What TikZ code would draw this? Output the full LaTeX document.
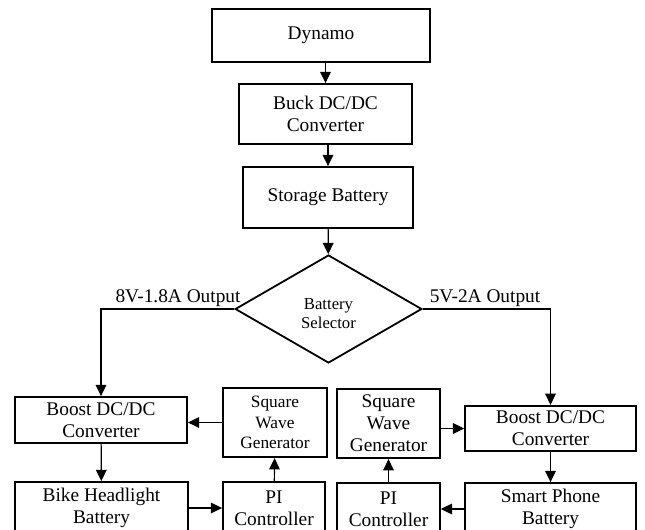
\documentclass[tikz,border=0pt]{standalone}
\usepackage{fontspec}
\setmainfont{Liberation Serif}
\usepackage{tikz}
\usetikzlibrary{arrows.meta,positioning,shapes.geometric}

\begin{document}
\begin{tikzpicture}[
    x=0.75pt,y=-0.75pt,
    block/.style={rectangle,draw,line width=1.35pt,align=center,inner sep=0pt,
      font=\fontsize{14.5}{16.5}\selectfont},
    small/.style={font=\fontsize{13}{15.5}\selectfont},
    decision/.style={diamond,draw,line width=1.35pt,align=center,inner sep=0pt,
      minimum width=140pt,minimum height=81pt,
      font=\fontsize{12.5}{14.5}\selectfont},
    lbl/.style={font=\fontsize{14.5}{16.5}\selectfont,inner sep=0pt,anchor=base},
    arr/.style={-{Triangle[length=8.5pt,width=8pt]},line width=0.9pt}
  ]
    \useasboundingbox (0,0) rectangle (645,529);

    % main chain
    \node[block,minimum width=163.5pt,minimum height=39.75pt] (dynamo)
      at (321,35.5) {Dynamo};
    \node[block,minimum width=129.75pt,minimum height=45pt] (buck)
      at (325.5,114) {Buck DC/DC\\Converter};
    \node[block,minimum width=127.5pt,minimum height=45.75pt] (storage)
      at (328,197.5) {Storage Battery};
    \node[decision] (selector) at (328.5,309)
      {\rule{0pt}{15pt}Battery\\Selector};

    \node[lbl] (outL) at (178,302) {8V-1.8A Output};
    \node[lbl] (outR) at (485,302) {5V-2A Output};

    % left branch
    \node[block,minimum width=129pt,minimum height=34.5pt] (boostL)
      at (101,420) {Boost DC/DC\\Converter};
    \node[block,small,minimum width=78pt,minimum height=52pt] (squareL)
      at (275,422.5) {Square\\Wave\\Generator};
    \node[block,minimum width=130pt,minimum height=39pt] (bike)
      at (101.5,508) {Bike Headlight\\Battery};
    \node[block,minimum width=76.5pt,minimum height=39pt] (piL)
      at (274,508) {PI\\Controller};

    % right branch
    \node[block,minimum width=77pt,minimum height=52pt] (squareR)
      at (388.5,423.5) {Square\\Wave\\Generator};
    \node[block,minimum width=128pt,minimum height=34pt] (boostR)
      at (550.5,428.5) {Boost DC/DC\\Converter};
    \node[block,minimum width=128pt,minimum height=39pt] (phone)
      at (550.5,509) {Smart Phone\\Battery};
    \node[block,minimum width=77pt,minimum height=39pt] (piR)
      at (388.5,509) {PI\\Controller};

    \draw[arr] (buck.north |- dynamo.south) -- (buck.north);
    \draw[arr] (storage.north |- buck.south) -- (storage.north);
    \draw[arr] (storage) -- (selector);
    \draw[arr] (selector.west) -| (boostL);
    \draw[arr] (selector.east) -| (boostR);

    \draw[arr] (boostL) -- (bike);
    \draw[arr] (bike) -- (piL);
    \draw[arr] (piL) -- (squareL);
    \draw[arr] (squareL) -- (squareL.west -| boostL.east);

    \draw[arr] (boostR) -- (phone);
    \draw[arr] (phone) -- (piR);
    \draw[arr] (piR) -- (squareR);
    \draw[arr] (squareR.east |- boostR.west) -- (boostR.west);
  \end{tikzpicture}
\end{document}
